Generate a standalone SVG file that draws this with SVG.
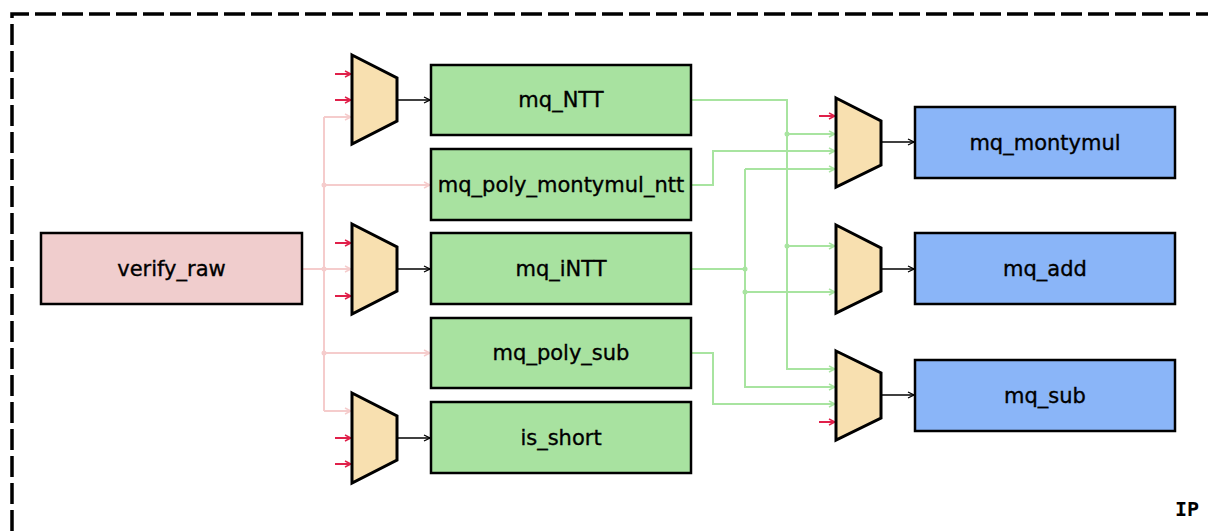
<svg xmlns="http://www.w3.org/2000/svg" width="1208" height="531" viewBox="0 0 1208 531">
<style>
.box{stroke:#000;stroke-width:2.5}
.pk{fill:#f0cdcd}
.gr{fill:#a8e2a0}
.bl{fill:#8ab5f8}
.mux{fill:#f8e0b0;stroke:#000;stroke-width:3;stroke-linejoin:miter}
.lbl{font-family:"DejaVu Sans",sans-serif;font-size:21px;fill:#000;stroke:#000;stroke-width:0.35;text-anchor:middle}
.pc{fill:none;stroke:#f5cccc;stroke-width:2}
.gc{fill:none;stroke:#a8e4a0;stroke-width:2}
.rc{fill:none;stroke:#e0204a;stroke-width:2}
.kc{fill:none;stroke:#000;stroke-width:1.5}
</style>
<defs>
<marker id="ap" markerWidth="8" markerHeight="8" refX="7" refY="4" orient="auto" markerUnits="userSpaceOnUse"><path d="M1,1 L7,4 L1,7" fill="none" stroke="#f5cccc" stroke-width="1.5"/></marker>
<marker id="ag" markerWidth="8" markerHeight="8" refX="7" refY="4" orient="auto" markerUnits="userSpaceOnUse"><path d="M1,1 L7,4 L1,7" fill="none" stroke="#a8e4a0" stroke-width="1.5"/></marker>
<marker id="ar" markerWidth="8" markerHeight="8" refX="7" refY="4" orient="auto" markerUnits="userSpaceOnUse"><path d="M1,1 L7,4 L1,7" fill="none" stroke="#e0204a" stroke-width="1.5"/></marker>
<marker id="ak" markerWidth="8" markerHeight="8" refX="7" refY="4" orient="auto" markerUnits="userSpaceOnUse"><path d="M1,1 L7,4 L1,7" fill="none" stroke="#000" stroke-width="1.3"/></marker>
</defs>
<rect width="1208" height="531" fill="#fff"/>
<g id="ip-boundary">
<path d="M12,531 L12,14 L1212,14" fill="none" stroke="#000" stroke-width="3.5" stroke-dasharray="21 6"/>
<text x="1187" y="516" style="font-family:'DejaVu Sans Mono',monospace;font-size:20px;font-weight:bold" text-anchor="middle">IP</text>
</g>
<g id="connectors">
<path class="pc" d="M302,269 L324,269"/>
<path class="pc" d="M324,117 L324,411"/>
<path class="pc" d="M324,117 L351,117" marker-end="url(#ap)"/>
<path class="pc" d="M324,185 L430,185" marker-end="url(#ap)"/>
<path class="pc" d="M324,269 L351,269" marker-end="url(#ap)"/>
<path class="pc" d="M324,353 L430,353" marker-end="url(#ap)"/>
<path class="pc" d="M324,411 L351,411" marker-end="url(#ap)"/>
<circle cx="324" cy="185" r="2.5" fill="#f5cccc"/>
<circle cx="324" cy="269" r="2.5" fill="#f5cccc"/>
<circle cx="324" cy="353" r="2.5" fill="#f5cccc"/>
<path class="rc" d="M335,74 L351,74" marker-end="url(#ar)"/>
<path class="rc" d="M335,100 L351,100" marker-end="url(#ar)"/>
<path class="rc" d="M335,243 L351,243" marker-end="url(#ar)"/>
<path class="rc" d="M335,296 L351,296" marker-end="url(#ar)"/>
<path class="rc" d="M335,438 L351,438" marker-end="url(#ar)"/>
<path class="rc" d="M335,464 L351,464" marker-end="url(#ar)"/>
<path class="rc" d="M819,116 L835,116" marker-end="url(#ar)"/>
<path class="rc" d="M819,422 L835,422" marker-end="url(#ar)"/>
<path class="kc" d="M398,100 L430,100" marker-end="url(#ak)"/>
<path class="kc" d="M398,269 L430,269" marker-end="url(#ak)"/>
<path class="kc" d="M398,438 L430,438" marker-end="url(#ak)"/>
<path class="kc" d="M882,142 L914,142" marker-end="url(#ak)"/>
<path class="kc" d="M882,269 L914,269" marker-end="url(#ak)"/>
<path class="kc" d="M882,395 L914,395" marker-end="url(#ak)"/>
<path class="gc" d="M691,100 L787,100 L787,369 L835,369" marker-end="url(#ag)"/>
<path class="gc" d="M787,134 L835,134" marker-end="url(#ag)"/>
<path class="gc" d="M787,246 L835,246" marker-end="url(#ag)"/>
<circle cx="787" cy="134" r="2.5" fill="#a8e4a0"/>
<circle cx="787" cy="246" r="2.5" fill="#a8e4a0"/>
<path class="gc" d="M691,185 L713,185 L713,151 L835,151" marker-end="url(#ag)"/>
<path class="gc" d="M691,269 L745,269"/>
<path class="gc" d="M745,169 L745,387 L835,387" marker-end="url(#ag)"/>
<path class="gc" d="M745,169 L835,169" marker-end="url(#ag)"/>
<path class="gc" d="M745,292 L835,292" marker-end="url(#ag)"/>
<circle cx="745" cy="269" r="2.5" fill="#a8e4a0"/>
<circle cx="745" cy="292" r="2.5" fill="#a8e4a0"/>
<path class="gc" d="M691,353 L713,353 L713,404 L835,404" marker-end="url(#ag)"/>
</g>
<g id="mux-ntt"><polygon class="mux" points="352,55 397,78 397,121 352,144"/></g>
<g id="mux-intt"><polygon class="mux" points="352,224 397,247 397,291 352,314"/></g>
<g id="mux-short"><polygon class="mux" points="352,393 397,416 397,460 352,483"/></g>
<g id="mux-montymul"><polygon class="mux" points="836,98 881,121 881,165 836,187"/></g>
<g id="mux-add"><polygon class="mux" points="836,225 881,248 881,291 836,313"/></g>
<g id="mux-sub"><polygon class="mux" points="836,351 881,373 881,418 836,440"/></g>
<g id="verify_raw"><rect class="box pk" x="41" y="233" width="261" height="71"/><text class="lbl" x="171.5" y="276">verify_raw</text></g>
<g id="mq_NTT"><rect class="box gr" x="431" y="65" width="260" height="70"/><text class="lbl" x="561" y="107">mq_NTT</text></g>
<g id="mq_poly_montymul_ntt"><rect class="box gr" x="431" y="149" width="260" height="71"/><text class="lbl" x="561" y="192">mq_poly_montymul_ntt</text></g>
<g id="mq_iNTT"><rect class="box gr" x="431" y="233" width="260" height="71"/><text class="lbl" x="561" y="276">mq_iNTT</text></g>
<g id="mq_poly_sub"><rect class="box gr" x="431" y="318" width="260" height="70"/><text class="lbl" x="561" y="360">mq_poly_sub</text></g>
<g id="is_short"><rect class="box gr" x="431" y="402" width="260" height="71"/><text class="lbl" x="561" y="445">is_short</text></g>
<g id="mq_montymul"><rect class="box bl" x="915" y="107" width="260" height="71"/><text class="lbl" x="1045" y="150">mq_montymul</text></g>
<g id="mq_add"><rect class="box bl" x="915" y="233" width="260" height="71"/><text class="lbl" x="1045" y="276">mq_add</text></g>
<g id="mq_sub"><rect class="box bl" x="915" y="360" width="260" height="71"/><text class="lbl" x="1045" y="403">mq_sub</text></g>
</svg>
